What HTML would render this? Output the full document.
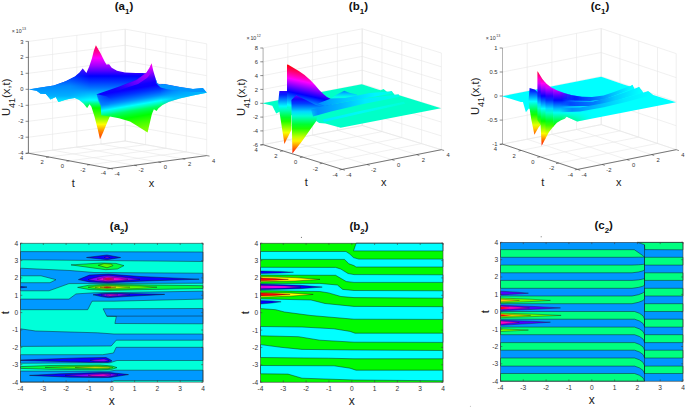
<!DOCTYPE html>
<html><head><meta charset="utf-8"><style>
html,body{margin:0;padding:0;background:#fff;}
svg{display:block;font-family:"Liberation Sans",sans-serif;}
</style></head><body>
<svg width="685" height="408" viewBox="0 0 685 408">
<defs><filter id="blur1" x="-5%" y="-20%" width="110%" height="140%"><feGaussianBlur stdDeviation="0.7"/></filter><linearGradient id="g1" gradientUnits="userSpaceOnUse" x1="0" y1="45" x2="0" y2="139.5"><stop offset="0.000" stop-color="#ff004d"/><stop offset="0.074" stop-color="#ff0099"/><stop offset="0.138" stop-color="#fe00ff"/><stop offset="0.222" stop-color="#9e00ff"/><stop offset="0.275" stop-color="#5200ff"/><stop offset="0.328" stop-color="#0100ff"/><stop offset="0.392" stop-color="#0038ff"/><stop offset="0.455" stop-color="#0075ff"/><stop offset="0.508" stop-color="#00b2ff"/><stop offset="0.582" stop-color="#00ffff"/><stop offset="0.619" stop-color="#00ff85"/><stop offset="0.667" stop-color="#01ff00"/><stop offset="0.757" stop-color="#61ff00"/><stop offset="0.840" stop-color="#feff00"/><stop offset="0.910" stop-color="#ff8a00"/><stop offset="1.000" stop-color="#ff2e00"/></linearGradient><linearGradient id="g2" gradientUnits="userSpaceOnUse" x1="151.6" y1="63.3" x2="163.228" y2="130.28"><stop offset="0.000" stop-color="#ff00e6"/><stop offset="0.068" stop-color="#dc00ff"/><stop offset="0.140" stop-color="#8c00ff"/><stop offset="0.213" stop-color="#3c00ff"/><stop offset="0.279" stop-color="#0f00ff"/><stop offset="0.324" stop-color="#0a00ff"/><stop offset="0.390" stop-color="#0032ff"/><stop offset="0.441" stop-color="#005fff"/><stop offset="0.485" stop-color="#008cff"/><stop offset="0.529" stop-color="#00c8ff"/><stop offset="0.563" stop-color="#00ffff"/><stop offset="0.603" stop-color="#00ffb4"/><stop offset="0.640" stop-color="#00ff64"/><stop offset="0.691" stop-color="#00ff28"/><stop offset="0.735" stop-color="#00ff00"/><stop offset="0.824" stop-color="#3cff00"/><stop offset="0.912" stop-color="#6eff00"/><stop offset="1.000" stop-color="#8cff00"/></linearGradient><linearGradient id="g3" gradientUnits="userSpaceOnUse" x1="150" y1="66" x2="112" y2="89"><stop offset="0" stop-color="#c000ff" stop-opacity="0"/><stop offset="0.15" stop-color="#b000ff" stop-opacity="0.85"/><stop offset="0.5" stop-color="#8000ff" stop-opacity="0.7"/><stop offset="1" stop-color="#4000ff" stop-opacity="0"/></linearGradient><linearGradient id="g4" gradientUnits="userSpaceOnUse" x1="160" y1="0" x2="200" y2="0"><stop offset="0" stop-color="#00a0ff" stop-opacity="0"/><stop offset="0.35" stop-color="#00a0ff" stop-opacity="0.6"/><stop offset="0.7" stop-color="#00a8ff" stop-opacity="0.85"/><stop offset="1" stop-color="#00b0ff" stop-opacity="0.95"/></linearGradient><linearGradient id="g5" gradientUnits="userSpaceOnUse" x1="0" y1="68" x2="0" y2="102.5"><stop offset="0.000" stop-color="#0014ff"/><stop offset="0.203" stop-color="#0032ff"/><stop offset="0.377" stop-color="#005aff"/><stop offset="0.522" stop-color="#0087ff"/><stop offset="0.667" stop-color="#009bff"/><stop offset="0.812" stop-color="#00afff"/><stop offset="0.913" stop-color="#00d7ff"/><stop offset="1.000" stop-color="#00faff"/></linearGradient><linearGradient id="g6" gradientUnits="userSpaceOnUse" x1="70" y1="0" x2="90" y2="0"><stop offset="0" stop-color="#fff" stop-opacity="1"/><stop offset="1" stop-color="#fff" stop-opacity="0"/></linearGradient><mask id="mL" maskUnits="userSpaceOnUse" x="0" y="0" width="230" height="204"><rect x="0" y="0" width="230" height="204" fill="url(#g6)"/></mask><linearGradient id="g7" gradientUnits="userSpaceOnUse" x1="96" y1="0" x2="112" y2="0"><stop offset="0" stop-color="#0090ff" stop-opacity="0.85"/><stop offset="1" stop-color="#0070ff" stop-opacity="0"/></linearGradient><linearGradient id="g8" gradientUnits="userSpaceOnUse" x1="0" y1="90.5" x2="0" y2="99"><stop offset="0.000" stop-color="#0078ff"/><stop offset="0.412" stop-color="#00c8ff"/><stop offset="0.765" stop-color="#00ffeb"/><stop offset="1.000" stop-color="#00ffc8"/></linearGradient><linearGradient id="g9" gradientUnits="userSpaceOnUse" x1="0" y1="91.0" x2="0" y2="144.0"><stop offset="0.000" stop-color="#2800ff"/><stop offset="0.071" stop-color="#0021ff"/><stop offset="0.143" stop-color="#0069ff"/><stop offset="0.214" stop-color="#00b2ff"/><stop offset="0.286" stop-color="#00faff"/><stop offset="0.357" stop-color="#00ffbc"/><stop offset="0.429" stop-color="#00ff73"/><stop offset="0.500" stop-color="#00ff2b"/><stop offset="0.571" stop-color="#1eff00"/><stop offset="0.643" stop-color="#66ff00"/><stop offset="0.714" stop-color="#aeff00"/><stop offset="0.786" stop-color="#f7ff00"/><stop offset="0.857" stop-color="#ffbf00"/><stop offset="0.929" stop-color="#ff7600"/><stop offset="1.000" stop-color="#ff2e00"/></linearGradient><linearGradient id="g10" gradientUnits="userSpaceOnUse" x1="287" y1="64.6" x2="275.82421247799334" y2="115.38485771628153"><stop offset="0.000" stop-color="#ff0002"/><stop offset="0.062" stop-color="#ff0041"/><stop offset="0.125" stop-color="#ff0081"/><stop offset="0.188" stop-color="#ff00c0"/><stop offset="0.250" stop-color="#fe00ff"/><stop offset="0.312" stop-color="#bf00ff"/><stop offset="0.375" stop-color="#7f00ff"/><stop offset="0.438" stop-color="#3f00ff"/><stop offset="0.500" stop-color="#0000ff"/><stop offset="0.562" stop-color="#0040ff"/><stop offset="0.625" stop-color="#007fff"/><stop offset="0.688" stop-color="#00bfff"/><stop offset="0.750" stop-color="#00ffff"/><stop offset="0.812" stop-color="#00ffc0"/><stop offset="0.875" stop-color="#00ff80"/><stop offset="0.938" stop-color="#00ff41"/><stop offset="1.000" stop-color="#00ff01"/></linearGradient><linearGradient id="g11" gradientUnits="userSpaceOnUse" x1="0" y1="95.0" x2="0" y2="153.6"><stop offset="0.000" stop-color="#6500ff"/><stop offset="0.071" stop-color="#1500ff"/><stop offset="0.143" stop-color="#003bff"/><stop offset="0.214" stop-color="#008bff"/><stop offset="0.286" stop-color="#00dbff"/><stop offset="0.357" stop-color="#00ffd2"/><stop offset="0.429" stop-color="#00ff82"/><stop offset="0.500" stop-color="#00ff32"/><stop offset="0.571" stop-color="#1eff00"/><stop offset="0.643" stop-color="#6eff00"/><stop offset="0.714" stop-color="#beff00"/><stop offset="0.786" stop-color="#fff000"/><stop offset="0.857" stop-color="#ffa000"/><stop offset="0.929" stop-color="#ff5000"/><stop offset="1.000" stop-color="#ff0000"/></linearGradient><linearGradient id="g12" gradientUnits="userSpaceOnUse" x1="318" y1="0" x2="392" y2="0"><stop offset="0.000" stop-color="#008cff"/><stop offset="0.365" stop-color="#00c8ff"/><stop offset="0.770" stop-color="#00f5ff"/><stop offset="1.000" stop-color="#00ffe1"/></linearGradient><linearGradient id="g13" gradientUnits="userSpaceOnUse" x1="311" y1="0" x2="400" y2="0"><stop offset="0.000" stop-color="#0078ff" stop-opacity="0.3"/><stop offset="0.079" stop-color="#008cff" stop-opacity="1"/><stop offset="0.326" stop-color="#00b4ff"/><stop offset="0.607" stop-color="#00ebff"/><stop offset="1.000" stop-color="#00ffe1"/></linearGradient><linearGradient id="g14" gradientUnits="userSpaceOnUse" x1="323" y1="0" x2="405" y2="0"><stop offset="0.000" stop-color="#00ebff"/><stop offset="0.451" stop-color="#00faf5"/><stop offset="1.000" stop-color="#00ffd7"/></linearGradient><linearGradient id="g15" gradientUnits="userSpaceOnUse" x1="0" y1="88.0" x2="0" y2="135.0"><stop offset="0.000" stop-color="#1800ff"/><stop offset="0.071" stop-color="#002dff"/><stop offset="0.143" stop-color="#0073ff"/><stop offset="0.214" stop-color="#00b8ff"/><stop offset="0.286" stop-color="#00feff"/><stop offset="0.357" stop-color="#00ffbb"/><stop offset="0.429" stop-color="#00ff76"/><stop offset="0.500" stop-color="#00ff30"/><stop offset="0.571" stop-color="#15ff00"/><stop offset="0.643" stop-color="#5bff00"/><stop offset="0.714" stop-color="#a0ff00"/><stop offset="0.786" stop-color="#e5ff00"/><stop offset="0.857" stop-color="#ffd300"/><stop offset="0.929" stop-color="#ff8e00"/><stop offset="1.000" stop-color="#ff4800"/></linearGradient><linearGradient id="g16" gradientUnits="userSpaceOnUse" x1="562" y1="0" x2="592" y2="0"><stop offset="0" stop-color="#fff"/><stop offset="1" stop-color="#000"/></linearGradient><mask id="mC" maskUnits="userSpaceOnUse" x="455" y="0" width="230" height="204"><rect x="455" y="0" width="230" height="204" fill="url(#g16)"/></mask><clipPath id="cs0"><rect x="536.4" y="60" width="4.899999999999954" height="100"/></clipPath><linearGradient id="g17" gradientUnits="userSpaceOnUse" x1="0" y1="71.0" x2="0" y2="146.0"><stop offset="0.000" stop-color="#ff0025"/><stop offset="0.056" stop-color="#ff007b"/><stop offset="0.111" stop-color="#ff00d2"/><stop offset="0.167" stop-color="#d600ff"/><stop offset="0.222" stop-color="#8000ff"/><stop offset="0.278" stop-color="#2a00ff"/><stop offset="0.333" stop-color="#002cff"/><stop offset="0.389" stop-color="#0082ff"/><stop offset="0.444" stop-color="#00d8ff"/><stop offset="0.500" stop-color="#00ffcf"/><stop offset="0.556" stop-color="#00ff79"/><stop offset="0.611" stop-color="#00ff23"/><stop offset="0.667" stop-color="#33ff00"/><stop offset="0.722" stop-color="#89ff00"/><stop offset="0.778" stop-color="#dfff00"/><stop offset="0.833" stop-color="#ffc900"/><stop offset="0.889" stop-color="#ff7200"/><stop offset="0.944" stop-color="#ff1c00"/><stop offset="1.000" stop-color="#ff0000"/></linearGradient><clipPath id="cs1"><rect x="540.6999999999999" y="60" width="5.400000000000068" height="100"/></clipPath><linearGradient id="g18" gradientUnits="userSpaceOnUse" x1="0" y1="71.0" x2="0" y2="146.0"><stop offset="0.000" stop-color="#ff0002"/><stop offset="0.056" stop-color="#ff004a"/><stop offset="0.111" stop-color="#ff00a0"/><stop offset="0.167" stop-color="#ff00f6"/><stop offset="0.222" stop-color="#b200ff"/><stop offset="0.278" stop-color="#5c00ff"/><stop offset="0.333" stop-color="#0600ff"/><stop offset="0.389" stop-color="#0051ff"/><stop offset="0.444" stop-color="#00a7ff"/><stop offset="0.500" stop-color="#00fdff"/><stop offset="0.556" stop-color="#00ffab"/><stop offset="0.611" stop-color="#00ff55"/><stop offset="0.667" stop-color="#01ff00"/><stop offset="0.722" stop-color="#58ff00"/><stop offset="0.778" stop-color="#aeff00"/><stop offset="0.833" stop-color="#fffa00"/><stop offset="0.889" stop-color="#ffa400"/><stop offset="0.944" stop-color="#ff4e00"/><stop offset="1.000" stop-color="#ff0000"/></linearGradient><clipPath id="cs2"><rect x="545.5" y="60" width="8.299999999999931" height="100"/></clipPath><linearGradient id="g19" gradientUnits="userSpaceOnUse" x1="0" y1="71.0" x2="0" y2="146.0"><stop offset="0.000" stop-color="#ff0002"/><stop offset="0.056" stop-color="#ff0027"/><stop offset="0.111" stop-color="#ff007d"/><stop offset="0.167" stop-color="#ff00d3"/><stop offset="0.222" stop-color="#d500ff"/><stop offset="0.278" stop-color="#7f00ff"/><stop offset="0.333" stop-color="#2900ff"/><stop offset="0.389" stop-color="#002dff"/><stop offset="0.444" stop-color="#0084ff"/><stop offset="0.500" stop-color="#00daff"/><stop offset="0.556" stop-color="#00ffce"/><stop offset="0.611" stop-color="#00ff78"/><stop offset="0.667" stop-color="#00ff22"/><stop offset="0.722" stop-color="#34ff00"/><stop offset="0.778" stop-color="#8bff00"/><stop offset="0.833" stop-color="#e1ff00"/><stop offset="0.889" stop-color="#ffc700"/><stop offset="0.944" stop-color="#ff7100"/><stop offset="1.000" stop-color="#ff1b00"/></linearGradient><clipPath id="cs3"><rect x="553.1999999999999" y="60" width="46.80000000000005" height="100"/></clipPath><linearGradient id="g20" gradientUnits="userSpaceOnUse" x1="0" y1="71.0" x2="0" y2="146.0"><stop offset="0.000" stop-color="#ff0002"/><stop offset="0.056" stop-color="#ff0003"/><stop offset="0.111" stop-color="#ff005a"/><stop offset="0.167" stop-color="#ff00b0"/><stop offset="0.222" stop-color="#f800ff"/><stop offset="0.278" stop-color="#a200ff"/><stop offset="0.333" stop-color="#4c00ff"/><stop offset="0.389" stop-color="#000aff"/><stop offset="0.444" stop-color="#0060ff"/><stop offset="0.500" stop-color="#00b7ff"/><stop offset="0.556" stop-color="#00fff1"/><stop offset="0.611" stop-color="#00ff9b"/><stop offset="0.667" stop-color="#00ff45"/><stop offset="0.722" stop-color="#11ff00"/><stop offset="0.778" stop-color="#67ff00"/><stop offset="0.833" stop-color="#beff00"/><stop offset="0.889" stop-color="#ffea00"/><stop offset="0.944" stop-color="#ff9400"/><stop offset="1.000" stop-color="#ff3e00"/></linearGradient><linearGradient id="g21" gradientUnits="userSpaceOnUse" x1="560" y1="0" x2="632" y2="0"><stop offset="0.000" stop-color="#0a00ff" stop-opacity="0"/><stop offset="0.208" stop-color="#001eff" stop-opacity="1"/><stop offset="0.486" stop-color="#006eff"/><stop offset="0.722" stop-color="#00beff"/><stop offset="1.000" stop-color="#00ffff"/></linearGradient><linearGradient id="g22" gradientUnits="userSpaceOnUse" x1="560" y1="0" x2="640" y2="0"><stop offset="0.000" stop-color="#003cff" stop-opacity="0"/><stop offset="0.125" stop-color="#0046ff" stop-opacity="1"/><stop offset="0.438" stop-color="#007dff"/><stop offset="0.688" stop-color="#00cdff"/><stop offset="1.000" stop-color="#00ffff"/></linearGradient><linearGradient id="g23" gradientUnits="userSpaceOnUse" x1="560" y1="0" x2="650" y2="0"><stop offset="0.000" stop-color="#0078ff" stop-opacity="0"/><stop offset="0.133" stop-color="#008cff" stop-opacity="1"/><stop offset="0.444" stop-color="#00beff"/><stop offset="0.722" stop-color="#00ebff"/><stop offset="1.000" stop-color="#00ffff"/></linearGradient></defs>
<rect width="685" height="408" fill="#fff"/>
<text x="124" y="9.6" font-size="11.5" font-weight="bold" text-anchor="middle" fill="#111">(a<tspan dy="4.6" font-size="8">1</tspan><tspan dy="-4.6">)</tspan></text>
<line x1="28.4" y1="153.2" x2="125.2" y2="141.0" stroke="#e5e5e5" stroke-width="0.6"/>
<line x1="125.2" y1="141.0" x2="206.7" y2="155.6" stroke="#e5e5e5" stroke-width="0.6"/>
<line x1="28.4" y1="137.2" x2="125.2" y2="125.0" stroke="#e5e5e5" stroke-width="0.6"/>
<line x1="125.2" y1="125.0" x2="206.7" y2="139.6" stroke="#e5e5e5" stroke-width="0.6"/>
<line x1="28.4" y1="121.3" x2="125.2" y2="109.1" stroke="#e5e5e5" stroke-width="0.6"/>
<line x1="125.2" y1="109.1" x2="206.7" y2="123.7" stroke="#e5e5e5" stroke-width="0.6"/>
<line x1="28.4" y1="105.3" x2="125.2" y2="93.1" stroke="#e5e5e5" stroke-width="0.6"/>
<line x1="125.2" y1="93.1" x2="206.7" y2="107.7" stroke="#e5e5e5" stroke-width="0.6"/>
<line x1="28.4" y1="89.3" x2="125.2" y2="77.1" stroke="#e5e5e5" stroke-width="0.6"/>
<line x1="125.2" y1="77.1" x2="206.7" y2="91.7" stroke="#e5e5e5" stroke-width="0.6"/>
<line x1="28.4" y1="73.3" x2="125.2" y2="61.1" stroke="#e5e5e5" stroke-width="0.6"/>
<line x1="125.2" y1="61.1" x2="206.7" y2="75.7" stroke="#e5e5e5" stroke-width="0.6"/>
<line x1="28.4" y1="57.4" x2="125.2" y2="45.2" stroke="#e5e5e5" stroke-width="0.6"/>
<line x1="125.2" y1="45.2" x2="206.7" y2="59.8" stroke="#e5e5e5" stroke-width="0.6"/>
<line x1="28.4" y1="41.4" x2="125.2" y2="29.2" stroke="#e5e5e5" stroke-width="0.6"/>
<line x1="125.2" y1="29.2" x2="206.7" y2="43.8" stroke="#e5e5e5" stroke-width="0.6"/>
<line x1="28.4" y1="153.2" x2="28.4" y2="41.4" stroke="#e5e5e5" stroke-width="0.6"/>
<line x1="125.2" y1="141.0" x2="125.2" y2="29.2" stroke="#e5e5e5" stroke-width="0.6"/>
<line x1="28.4" y1="153.2" x2="110.2" y2="168.5" stroke="#e5e5e5" stroke-width="0.6"/>
<line x1="28.4" y1="153.2" x2="125.2" y2="141.0" stroke="#e5e5e5" stroke-width="0.6"/>
<line x1="52.6" y1="150.1" x2="52.6" y2="38.3" stroke="#e5e5e5" stroke-width="0.6"/>
<line x1="145.6" y1="144.7" x2="145.6" y2="32.9" stroke="#e5e5e5" stroke-width="0.6"/>
<line x1="52.6" y1="150.1" x2="134.3" y2="165.3" stroke="#e5e5e5" stroke-width="0.6"/>
<line x1="48.9" y1="157.0" x2="145.6" y2="144.7" stroke="#e5e5e5" stroke-width="0.6"/>
<line x1="76.8" y1="147.1" x2="76.8" y2="35.3" stroke="#e5e5e5" stroke-width="0.6"/>
<line x1="165.9" y1="148.3" x2="165.9" y2="36.5" stroke="#e5e5e5" stroke-width="0.6"/>
<line x1="76.8" y1="147.1" x2="158.4" y2="162.1" stroke="#e5e5e5" stroke-width="0.6"/>
<line x1="69.3" y1="160.8" x2="165.9" y2="148.3" stroke="#e5e5e5" stroke-width="0.6"/>
<line x1="101.0" y1="144.1" x2="101.0" y2="32.3" stroke="#e5e5e5" stroke-width="0.6"/>
<line x1="186.3" y1="151.9" x2="186.3" y2="40.2" stroke="#e5e5e5" stroke-width="0.6"/>
<line x1="101.0" y1="144.1" x2="182.6" y2="158.8" stroke="#e5e5e5" stroke-width="0.6"/>
<line x1="89.8" y1="164.7" x2="186.3" y2="151.9" stroke="#e5e5e5" stroke-width="0.6"/>
<line x1="125.2" y1="141.0" x2="125.2" y2="29.2" stroke="#e5e5e5" stroke-width="0.6"/>
<line x1="206.7" y1="155.6" x2="206.7" y2="43.8" stroke="#e5e5e5" stroke-width="0.6"/>
<line x1="125.2" y1="141.0" x2="206.7" y2="155.6" stroke="#e5e5e5" stroke-width="0.6"/>
<line x1="110.2" y1="168.5" x2="206.7" y2="155.6" stroke="#e5e5e5" stroke-width="0.6"/>
<line x1="28.4" y1="153.2" x2="28.4" y2="41.4" stroke="#404040" stroke-width="0.7"/>
<line x1="28.4" y1="153.2" x2="110.2" y2="168.5" stroke="#404040" stroke-width="0.7"/>
<line x1="110.2" y1="168.5" x2="206.7" y2="155.6" stroke="#404040" stroke-width="0.7"/>
<line x1="25.6" y1="153.2" x2="28.4" y2="153.2" stroke="#404040" stroke-width="0.6"/>
<text x="23.4" y="155.2" font-size="5.8" text-anchor="end" fill="#333" font-weight="normal" >-4</text>
<line x1="25.6" y1="137.2" x2="28.4" y2="137.2" stroke="#404040" stroke-width="0.6"/>
<text x="23.4" y="139.3" font-size="5.8" text-anchor="end" fill="#333" font-weight="normal" >-3</text>
<line x1="25.6" y1="121.3" x2="28.4" y2="121.3" stroke="#404040" stroke-width="0.6"/>
<text x="23.4" y="123.3" font-size="5.8" text-anchor="end" fill="#333" font-weight="normal" >-2</text>
<line x1="25.6" y1="105.3" x2="28.4" y2="105.3" stroke="#404040" stroke-width="0.6"/>
<text x="23.4" y="107.3" font-size="5.8" text-anchor="end" fill="#333" font-weight="normal" >-1</text>
<line x1="25.6" y1="89.3" x2="28.4" y2="89.3" stroke="#404040" stroke-width="0.6"/>
<text x="23.4" y="91.4" font-size="5.8" text-anchor="end" fill="#333" font-weight="normal" >0</text>
<line x1="25.6" y1="73.3" x2="28.4" y2="73.3" stroke="#404040" stroke-width="0.6"/>
<text x="23.4" y="75.4" font-size="5.8" text-anchor="end" fill="#333" font-weight="normal" >1</text>
<line x1="25.6" y1="57.4" x2="28.4" y2="57.4" stroke="#404040" stroke-width="0.6"/>
<text x="23.4" y="59.4" font-size="5.8" text-anchor="end" fill="#333" font-weight="normal" >2</text>
<line x1="25.6" y1="41.4" x2="28.4" y2="41.4" stroke="#404040" stroke-width="0.6"/>
<text x="23.4" y="43.5" font-size="5.8" text-anchor="end" fill="#333" font-weight="normal" >3</text>
<line x1="28.4" y1="153.2" x2="25.6" y2="153.6" stroke="#404040" stroke-width="0.6"/>
<text x="21.5" y="160.1" font-size="5.8" text-anchor="middle" fill="#333" font-weight="normal" >4</text>
<line x1="48.9" y1="157.0" x2="46.1" y2="157.4" stroke="#404040" stroke-width="0.6"/>
<text x="42.0" y="163.9" font-size="5.8" text-anchor="middle" fill="#333" font-weight="normal" >2</text>
<line x1="69.3" y1="160.8" x2="66.5" y2="161.2" stroke="#404040" stroke-width="0.6"/>
<text x="62.4" y="167.8" font-size="5.8" text-anchor="middle" fill="#333" font-weight="normal" >0</text>
<line x1="89.8" y1="164.7" x2="87.0" y2="165.0" stroke="#404040" stroke-width="0.6"/>
<text x="82.8" y="171.6" font-size="5.8" text-anchor="middle" fill="#333" font-weight="normal" >-2</text>
<line x1="110.2" y1="168.5" x2="107.4" y2="168.9" stroke="#404040" stroke-width="0.6"/>
<text x="103.3" y="175.4" font-size="5.8" text-anchor="middle" fill="#333" font-weight="normal" >-4</text>
<line x1="110.2" y1="168.5" x2="113.0" y2="169.0" stroke="#404040" stroke-width="0.6"/>
<text x="117.1" y="175.6" font-size="5.8" text-anchor="middle" fill="#333" font-weight="normal" >-4</text>
<line x1="134.3" y1="165.3" x2="137.1" y2="165.8" stroke="#404040" stroke-width="0.6"/>
<text x="141.2" y="172.4" font-size="5.8" text-anchor="middle" fill="#333" font-weight="normal" >-2</text>
<line x1="158.4" y1="162.1" x2="161.2" y2="162.6" stroke="#404040" stroke-width="0.6"/>
<text x="165.3" y="169.2" font-size="5.8" text-anchor="middle" fill="#333" font-weight="normal" >0</text>
<line x1="182.6" y1="158.8" x2="185.3" y2="159.3" stroke="#404040" stroke-width="0.6"/>
<text x="189.5" y="165.9" font-size="5.8" text-anchor="middle" fill="#333" font-weight="normal" >2</text>
<line x1="206.7" y1="155.6" x2="209.5" y2="156.1" stroke="#404040" stroke-width="0.6"/>
<text x="213.6" y="162.7" font-size="5.8" text-anchor="middle" fill="#333" font-weight="normal" >4</text>
<text x="11.7" y="33.0" font-size="5.3" fill="#333">×<tspan dx="0.9">10</tspan><tspan dx="0.5" dy="-2.6" font-size="3.6">13</tspan></text>
<text transform="translate(10.1,97.3) rotate(-90)" font-size="11.3" text-anchor="middle" fill="#222">U<tspan dy="5" font-size="9">41</tspan><tspan dy="-5">(x,t)</tspan></text>
<text x="73.4" y="186.8" font-size="11" text-anchor="middle" fill="#222" font-weight="normal" >t</text>
<text x="151.4" y="187.2" font-size="11" text-anchor="middle" fill="#222" font-weight="normal" >x</text>
<polygon points="28.9,89.4 39.2,87.8 53.8,85.4 65.7,81.2 75.0,76.5 79.6,72.6 82.7,68.5 86.4,73.1 89.2,66.5 91.9,58.5 93.9,50.6 95.9,45.3 100.5,53.2 104.5,61.2 106.4,64.5 109.1,64.2 111.7,67.8 117.0,70.7 125.0,72.4 135.6,73.1 142.2,73.1 146.0,73.2 150.0,90.0 120.0,105.0 109.8,116.5 106.7,123.8 103.1,132.4 100.0,139.2 97.6,128.7 94.5,116.5 91.4,106.7 89.6,104.2 87.1,107.9 83.5,103.6 79.2,100.0 74.9,98.1 70.0,98.7 65.7,99.7 58.4,102.1 55.8,97.0 50.5,99.4 45.9,94.1 40.6,93.7 36.6,90.7" fill="url(#g1)" stroke="none" stroke-width="0.4" />
<polygon points="96.7,94.3 119.2,86.5 136.9,79.6 144.7,73.7 146.0,73.2 149.3,67.9 151.6,63.3 153.2,70.6 155.2,77.2 157.2,83.2 159.9,84.5 163.8,84.1 179.7,87.1 192.9,88.9 202.9,88.1 206.8,92.8 192.9,95.5 179.7,98.4 169.1,101.7 162.5,105.0 158.5,108.3 156.5,111.0 153.9,109.2 151.9,114.0 147.6,132.5 136.9,125.7 130.0,121.4 119.0,118.3 109.8,116.5 101.2,115.3 100.6,104.2" fill="url(#g2)" stroke="none" stroke-width="0.4" />
<g filter="url(#blur1)">
<polygon points="149.5,68.5 146.0,73.6 136.9,80.0 119.2,86.9 112.0,89.4 118.0,90.5 138.0,84.0 147.0,78.0 151.0,73.0" fill="url(#g3)" stroke="none" stroke-width="0.4" />
</g>
<polygon points="155.2,77.2 157.2,83.2 159.9,84.5 163.8,84.1 179.7,87.1 192.9,88.9 202.9,88.1 206.8,92.8 195.0,92.3 180.0,91.0 168.0,89.5 160.5,87.5 156.5,83.5" fill="#0096ff" stroke="none" stroke-width="0.4" />
<polygon points="160.5,87.5 168.0,89.5 180.0,91.0 195.0,92.3 206.8,92.8 192.9,95.5 179.7,98.4 169.1,101.7 162.5,105.0" fill="url(#g4)" stroke="none" stroke-width="0.4" />
<polygon points="28.9,89.4 39.2,87.8 53.8,85.4 65.7,81.2 75.0,76.5 79.6,72.6 82.7,68.5 86.4,73.1 90.0,70.0 90.0,104.2 87.1,107.9 83.5,103.6 79.2,100.0 74.9,98.1 70.0,98.7 65.7,99.7 58.4,102.1 55.8,97.0 50.5,99.4 45.9,94.1 40.6,93.7 36.6,90.7" fill="url(#g5)" stroke="none" stroke-width="0.4" mask="url(#mL)"/>
<polygon points="96.7,94.3 106.5,96.3 112.0,100.0 109.4,105.5 100.2,105.0 98.0,100.0" fill="url(#g7)" stroke="none" stroke-width="0.4" />
<text x="358.4" y="9.6" font-size="11.5" font-weight="bold" text-anchor="middle" fill="#111">(b<tspan dy="4.6" font-size="8">1</tspan><tspan dy="-4.6">)</tspan></text>
<line x1="263.1" y1="144.7" x2="362.2" y2="125.5" stroke="#e5e5e5" stroke-width="0.6"/>
<line x1="362.2" y1="125.5" x2="441.4" y2="149.7" stroke="#e5e5e5" stroke-width="0.6"/>
<line x1="263.1" y1="130.9" x2="362.2" y2="111.7" stroke="#e5e5e5" stroke-width="0.6"/>
<line x1="362.2" y1="111.7" x2="441.4" y2="135.9" stroke="#e5e5e5" stroke-width="0.6"/>
<line x1="263.1" y1="117.1" x2="362.2" y2="97.9" stroke="#e5e5e5" stroke-width="0.6"/>
<line x1="362.2" y1="97.9" x2="441.4" y2="122.1" stroke="#e5e5e5" stroke-width="0.6"/>
<line x1="263.1" y1="103.3" x2="362.2" y2="84.1" stroke="#e5e5e5" stroke-width="0.6"/>
<line x1="362.2" y1="84.1" x2="441.4" y2="108.3" stroke="#e5e5e5" stroke-width="0.6"/>
<line x1="263.1" y1="89.4" x2="362.2" y2="70.2" stroke="#e5e5e5" stroke-width="0.6"/>
<line x1="362.2" y1="70.2" x2="441.4" y2="94.4" stroke="#e5e5e5" stroke-width="0.6"/>
<line x1="263.1" y1="75.6" x2="362.2" y2="56.4" stroke="#e5e5e5" stroke-width="0.6"/>
<line x1="362.2" y1="56.4" x2="441.4" y2="80.6" stroke="#e5e5e5" stroke-width="0.6"/>
<line x1="263.1" y1="61.8" x2="362.2" y2="42.6" stroke="#e5e5e5" stroke-width="0.6"/>
<line x1="362.2" y1="42.6" x2="441.4" y2="66.8" stroke="#e5e5e5" stroke-width="0.6"/>
<line x1="263.1" y1="48.0" x2="362.2" y2="28.8" stroke="#e5e5e5" stroke-width="0.6"/>
<line x1="362.2" y1="28.8" x2="441.4" y2="53.0" stroke="#e5e5e5" stroke-width="0.6"/>
<line x1="263.1" y1="144.7" x2="263.1" y2="48.0" stroke="#e5e5e5" stroke-width="0.6"/>
<line x1="362.2" y1="125.5" x2="362.2" y2="28.8" stroke="#e5e5e5" stroke-width="0.6"/>
<line x1="263.1" y1="144.7" x2="342.2" y2="169.4" stroke="#e5e5e5" stroke-width="0.6"/>
<line x1="263.1" y1="144.7" x2="362.2" y2="125.5" stroke="#e5e5e5" stroke-width="0.6"/>
<line x1="287.9" y1="139.9" x2="287.9" y2="43.2" stroke="#e5e5e5" stroke-width="0.6"/>
<line x1="382.0" y1="131.6" x2="382.0" y2="34.9" stroke="#e5e5e5" stroke-width="0.6"/>
<line x1="287.9" y1="139.9" x2="367.0" y2="164.5" stroke="#e5e5e5" stroke-width="0.6"/>
<line x1="282.9" y1="150.9" x2="382.0" y2="131.6" stroke="#e5e5e5" stroke-width="0.6"/>
<line x1="312.6" y1="135.1" x2="312.6" y2="38.4" stroke="#e5e5e5" stroke-width="0.6"/>
<line x1="401.8" y1="137.6" x2="401.8" y2="40.9" stroke="#e5e5e5" stroke-width="0.6"/>
<line x1="312.6" y1="135.1" x2="391.8" y2="159.6" stroke="#e5e5e5" stroke-width="0.6"/>
<line x1="302.6" y1="157.1" x2="401.8" y2="137.6" stroke="#e5e5e5" stroke-width="0.6"/>
<line x1="337.4" y1="130.3" x2="337.4" y2="33.6" stroke="#e5e5e5" stroke-width="0.6"/>
<line x1="421.6" y1="143.6" x2="421.6" y2="46.9" stroke="#e5e5e5" stroke-width="0.6"/>
<line x1="337.4" y1="130.3" x2="416.6" y2="154.6" stroke="#e5e5e5" stroke-width="0.6"/>
<line x1="322.4" y1="163.2" x2="421.6" y2="143.6" stroke="#e5e5e5" stroke-width="0.6"/>
<line x1="362.2" y1="125.5" x2="362.2" y2="28.8" stroke="#e5e5e5" stroke-width="0.6"/>
<line x1="441.4" y1="149.7" x2="441.4" y2="53.0" stroke="#e5e5e5" stroke-width="0.6"/>
<line x1="362.2" y1="125.5" x2="441.4" y2="149.7" stroke="#e5e5e5" stroke-width="0.6"/>
<line x1="342.2" y1="169.4" x2="441.4" y2="149.7" stroke="#e5e5e5" stroke-width="0.6"/>
<line x1="263.1" y1="144.7" x2="263.1" y2="48.0" stroke="#9a9a9a" stroke-width="0.7"/>
<line x1="263.1" y1="144.7" x2="342.2" y2="169.4" stroke="#404040" stroke-width="0.7"/>
<line x1="342.2" y1="169.4" x2="441.4" y2="149.7" stroke="#404040" stroke-width="0.7"/>
<line x1="260.3" y1="144.7" x2="263.1" y2="144.7" stroke="#404040" stroke-width="0.6"/>
<text x="258.1" y="146.8" font-size="5.8" text-anchor="end" fill="#333" font-weight="normal" >-6</text>
<line x1="260.3" y1="130.9" x2="263.1" y2="130.9" stroke="#404040" stroke-width="0.6"/>
<text x="258.1" y="132.9" font-size="5.8" text-anchor="end" fill="#333" font-weight="normal" >-4</text>
<line x1="260.3" y1="117.1" x2="263.1" y2="117.1" stroke="#404040" stroke-width="0.6"/>
<text x="258.1" y="119.1" font-size="5.8" text-anchor="end" fill="#333" font-weight="normal" >-2</text>
<line x1="260.3" y1="103.3" x2="263.1" y2="103.3" stroke="#404040" stroke-width="0.6"/>
<text x="258.1" y="105.3" font-size="5.8" text-anchor="end" fill="#333" font-weight="normal" >0</text>
<line x1="260.3" y1="89.4" x2="263.1" y2="89.4" stroke="#404040" stroke-width="0.6"/>
<text x="258.1" y="91.5" font-size="5.8" text-anchor="end" fill="#333" font-weight="normal" >2</text>
<line x1="260.3" y1="75.6" x2="263.1" y2="75.6" stroke="#404040" stroke-width="0.6"/>
<text x="258.1" y="77.7" font-size="5.8" text-anchor="end" fill="#333" font-weight="normal" >4</text>
<line x1="260.3" y1="61.8" x2="263.1" y2="61.8" stroke="#404040" stroke-width="0.6"/>
<text x="258.1" y="63.9" font-size="5.8" text-anchor="end" fill="#333" font-weight="normal" >6</text>
<line x1="260.3" y1="48.0" x2="263.1" y2="48.0" stroke="#404040" stroke-width="0.6"/>
<text x="258.1" y="50.0" font-size="5.8" text-anchor="end" fill="#333" font-weight="normal" >8</text>
<line x1="263.1" y1="144.7" x2="260.4" y2="145.2" stroke="#404040" stroke-width="0.6"/>
<text x="256.1" y="152.0" font-size="5.8" text-anchor="middle" fill="#333" font-weight="normal" >4</text>
<line x1="282.9" y1="150.9" x2="280.1" y2="151.4" stroke="#404040" stroke-width="0.6"/>
<text x="275.9" y="158.2" font-size="5.8" text-anchor="middle" fill="#333" font-weight="normal" >2</text>
<line x1="302.6" y1="157.1" x2="299.9" y2="157.6" stroke="#404040" stroke-width="0.6"/>
<text x="295.6" y="164.4" font-size="5.8" text-anchor="middle" fill="#333" font-weight="normal" >0</text>
<line x1="322.4" y1="163.2" x2="319.7" y2="163.8" stroke="#404040" stroke-width="0.6"/>
<text x="315.4" y="170.5" font-size="5.8" text-anchor="middle" fill="#333" font-weight="normal" >-2</text>
<line x1="342.2" y1="169.4" x2="339.5" y2="169.9" stroke="#404040" stroke-width="0.6"/>
<text x="335.2" y="176.7" font-size="5.8" text-anchor="middle" fill="#333" font-weight="normal" >-4</text>
<line x1="342.2" y1="169.4" x2="344.9" y2="170.2" stroke="#404040" stroke-width="0.6"/>
<text x="348.9" y="177.0" font-size="5.8" text-anchor="middle" fill="#333" font-weight="normal" >-4</text>
<line x1="367.0" y1="164.5" x2="369.7" y2="165.3" stroke="#404040" stroke-width="0.6"/>
<text x="373.7" y="172.1" font-size="5.8" text-anchor="middle" fill="#333" font-weight="normal" >-2</text>
<line x1="391.8" y1="159.6" x2="394.5" y2="160.4" stroke="#404040" stroke-width="0.6"/>
<text x="398.5" y="167.2" font-size="5.8" text-anchor="middle" fill="#333" font-weight="normal" >0</text>
<line x1="416.6" y1="154.6" x2="419.3" y2="155.5" stroke="#404040" stroke-width="0.6"/>
<text x="423.3" y="162.2" font-size="5.8" text-anchor="middle" fill="#333" font-weight="normal" >2</text>
<line x1="441.4" y1="149.7" x2="444.1" y2="150.5" stroke="#404040" stroke-width="0.6"/>
<text x="448.1" y="157.3" font-size="5.8" text-anchor="middle" fill="#333" font-weight="normal" >4</text>
<text x="246.4" y="39.6" font-size="5.3" fill="#333">×<tspan dx="0.9">10</tspan><tspan dx="0.5" dy="-2.6" font-size="3.6">12</tspan></text>
<text transform="translate(244.6,97.3) rotate(-90)" font-size="11.3" text-anchor="middle" fill="#222">U<tspan dy="5" font-size="9">41</tspan><tspan dy="-5">(x,t)</tspan></text>
<text x="306.4" y="185.9" font-size="11" text-anchor="middle" fill="#222" font-weight="normal" >t</text>
<text x="383.7" y="186.4" font-size="11" text-anchor="middle" fill="#222" font-weight="normal" >x</text>
<polygon points="262.3,103.2 361.8,84.2 376.4,88.9 380.5,90.3 383.6,88.9 387.7,92.4 391.7,90.9 394.8,95.0 399.9,95.4 441.0,108.2 340.7,127.7 325.3,123.6 319.2,123.0 316.3,121.1 300.0,118.0 280.0,111.5 276.2,113.4 272.3,105.8" fill="#00ffc8" stroke="none" stroke-width="0.4" />
<polygon points="330.0,99.0 337.0,94.5 344.2,90.8 350.0,93.0 357.0,94.5 357.0,99.0 340.0,102.0" fill="url(#g8)" stroke="none" stroke-width="0.4" />
<polygon points="279.4,91.1 287.2,91.1 291.4,100.0 291.4,130.0 288.6,135.4 284.4,144.0 281.9,127.8 278.1,102.9" fill="url(#g9)" stroke="none" stroke-width="0.4" />
<polygon points="287.0,64.6 288.3,64.7 298.8,71.0 304.6,75.0 310.2,80.0 315.0,85.0 319.2,90.0 323.6,94.3 327.0,97.0 331.5,99.2 334.0,103.0 325.0,108.0 300.0,110.0 287.0,108.0" fill="url(#g10)" stroke="none" stroke-width="0.4" />
<polygon points="291.4,100.0 296.2,95.3 305.0,99.5 315.3,104.8 325.0,107.5 319.0,112.0 317.0,117.0 316.3,121.1 311.5,127.8 302.0,141.2 292.4,153.6" fill="url(#g11)" stroke="none" stroke-width="0.4" />
<g filter="url(#blur1)">
<polygon points="318.0,103.5 331.0,98.5 345.0,98.0 370.0,93.0 391.6,91.2 392.5,93.6 371.0,97.2 345.0,102.0 325.0,106.0" fill="url(#g12)" stroke="none" stroke-width="0.4" />
<polygon points="311.0,109.5 330.0,104.8 360.0,99.3 398.6,94.3 400.0,96.8 362.0,104.3 331.0,111.5 313.0,116.5" fill="url(#g13)" stroke="none" stroke-width="0.4" />
<polygon points="323.0,119.5 360.0,111.0 404.0,101.8 405.0,103.8 361.0,113.5 324.0,122.0" fill="url(#g14)" stroke="none" stroke-width="0.4" />
</g>
<text x="600" y="9.6" font-size="11.5" font-weight="bold" text-anchor="middle" fill="#111">(c<tspan dy="4.6" font-size="8">1</tspan><tspan dy="-4.6">)</tspan></text>
<line x1="502.5" y1="144.1" x2="601.2" y2="124.6" stroke="#e5e5e5" stroke-width="0.6"/>
<line x1="601.2" y1="124.6" x2="676.2" y2="149.7" stroke="#e5e5e5" stroke-width="0.6"/>
<line x1="502.5" y1="120.1" x2="601.2" y2="100.6" stroke="#e5e5e5" stroke-width="0.6"/>
<line x1="601.2" y1="100.6" x2="676.2" y2="125.7" stroke="#e5e5e5" stroke-width="0.6"/>
<line x1="502.5" y1="96.0" x2="601.2" y2="76.5" stroke="#e5e5e5" stroke-width="0.6"/>
<line x1="601.2" y1="76.5" x2="676.2" y2="101.6" stroke="#e5e5e5" stroke-width="0.6"/>
<line x1="502.5" y1="72.0" x2="601.2" y2="52.5" stroke="#e5e5e5" stroke-width="0.6"/>
<line x1="601.2" y1="52.5" x2="676.2" y2="77.6" stroke="#e5e5e5" stroke-width="0.6"/>
<line x1="502.5" y1="48.0" x2="601.2" y2="28.5" stroke="#e5e5e5" stroke-width="0.6"/>
<line x1="601.2" y1="28.5" x2="676.2" y2="53.6" stroke="#e5e5e5" stroke-width="0.6"/>
<line x1="502.5" y1="144.1" x2="502.5" y2="48.0" stroke="#e5e5e5" stroke-width="0.6"/>
<line x1="601.2" y1="124.6" x2="601.2" y2="28.5" stroke="#e5e5e5" stroke-width="0.6"/>
<line x1="502.5" y1="144.1" x2="577.5" y2="169.4" stroke="#e5e5e5" stroke-width="0.6"/>
<line x1="502.5" y1="144.1" x2="601.2" y2="124.6" stroke="#e5e5e5" stroke-width="0.6"/>
<line x1="527.2" y1="139.2" x2="527.2" y2="43.1" stroke="#e5e5e5" stroke-width="0.6"/>
<line x1="620.0" y1="130.9" x2="620.0" y2="34.8" stroke="#e5e5e5" stroke-width="0.6"/>
<line x1="527.2" y1="139.2" x2="602.2" y2="164.5" stroke="#e5e5e5" stroke-width="0.6"/>
<line x1="521.2" y1="150.4" x2="620.0" y2="130.9" stroke="#e5e5e5" stroke-width="0.6"/>
<line x1="551.9" y1="134.3" x2="551.9" y2="38.2" stroke="#e5e5e5" stroke-width="0.6"/>
<line x1="638.7" y1="137.1" x2="638.7" y2="41.0" stroke="#e5e5e5" stroke-width="0.6"/>
<line x1="551.9" y1="134.3" x2="626.9" y2="159.6" stroke="#e5e5e5" stroke-width="0.6"/>
<line x1="540.0" y1="156.8" x2="638.7" y2="137.1" stroke="#e5e5e5" stroke-width="0.6"/>
<line x1="576.5" y1="129.5" x2="576.5" y2="33.4" stroke="#e5e5e5" stroke-width="0.6"/>
<line x1="657.5" y1="143.4" x2="657.5" y2="47.3" stroke="#e5e5e5" stroke-width="0.6"/>
<line x1="576.5" y1="129.5" x2="651.5" y2="154.6" stroke="#e5e5e5" stroke-width="0.6"/>
<line x1="558.8" y1="163.1" x2="657.5" y2="143.4" stroke="#e5e5e5" stroke-width="0.6"/>
<line x1="601.2" y1="124.6" x2="601.2" y2="28.5" stroke="#e5e5e5" stroke-width="0.6"/>
<line x1="676.2" y1="149.7" x2="676.2" y2="53.6" stroke="#e5e5e5" stroke-width="0.6"/>
<line x1="601.2" y1="124.6" x2="676.2" y2="149.7" stroke="#e5e5e5" stroke-width="0.6"/>
<line x1="577.5" y1="169.4" x2="676.2" y2="149.7" stroke="#e5e5e5" stroke-width="0.6"/>
<line x1="502.5" y1="144.1" x2="502.5" y2="48.0" stroke="#9a9a9a" stroke-width="0.7"/>
<line x1="502.5" y1="144.1" x2="577.5" y2="169.4" stroke="#404040" stroke-width="0.7"/>
<line x1="577.5" y1="169.4" x2="676.2" y2="149.7" stroke="#404040" stroke-width="0.7"/>
<line x1="499.7" y1="144.1" x2="502.5" y2="144.1" stroke="#404040" stroke-width="0.6"/>
<text x="497.5" y="146.2" font-size="5.8" text-anchor="end" fill="#333" font-weight="normal" >-1</text>
<line x1="499.7" y1="120.1" x2="502.5" y2="120.1" stroke="#404040" stroke-width="0.6"/>
<text x="497.5" y="122.1" font-size="5.8" text-anchor="end" fill="#333" font-weight="normal" >-0.5</text>
<line x1="499.7" y1="96.0" x2="502.5" y2="96.0" stroke="#404040" stroke-width="0.6"/>
<text x="497.5" y="98.1" font-size="5.8" text-anchor="end" fill="#333" font-weight="normal" >0</text>
<line x1="499.7" y1="72.0" x2="502.5" y2="72.0" stroke="#404040" stroke-width="0.6"/>
<text x="497.5" y="74.1" font-size="5.8" text-anchor="end" fill="#333" font-weight="normal" >0.5</text>
<line x1="499.7" y1="48.0" x2="502.5" y2="48.0" stroke="#404040" stroke-width="0.6"/>
<text x="497.5" y="50.0" font-size="5.8" text-anchor="end" fill="#333" font-weight="normal" >1</text>
<line x1="502.5" y1="144.1" x2="499.8" y2="144.6" stroke="#404040" stroke-width="0.6"/>
<text x="495.4" y="151.2" font-size="5.8" text-anchor="middle" fill="#333" font-weight="normal" >4</text>
<line x1="521.2" y1="150.4" x2="518.5" y2="151.0" stroke="#404040" stroke-width="0.6"/>
<text x="514.1" y="157.5" font-size="5.8" text-anchor="middle" fill="#333" font-weight="normal" >2</text>
<line x1="540.0" y1="156.8" x2="537.3" y2="157.3" stroke="#404040" stroke-width="0.6"/>
<text x="532.9" y="163.8" font-size="5.8" text-anchor="middle" fill="#333" font-weight="normal" >0</text>
<line x1="558.8" y1="163.1" x2="556.0" y2="163.6" stroke="#404040" stroke-width="0.6"/>
<text x="551.6" y="170.2" font-size="5.8" text-anchor="middle" fill="#333" font-weight="normal" >-2</text>
<line x1="577.5" y1="169.4" x2="574.8" y2="169.9" stroke="#404040" stroke-width="0.6"/>
<text x="570.4" y="176.5" font-size="5.8" text-anchor="middle" fill="#333" font-weight="normal" >-4</text>
<line x1="577.5" y1="169.4" x2="580.2" y2="170.3" stroke="#404040" stroke-width="0.6"/>
<text x="584.1" y="176.9" font-size="5.8" text-anchor="middle" fill="#333" font-weight="normal" >-4</text>
<line x1="602.2" y1="164.5" x2="604.8" y2="165.4" stroke="#404040" stroke-width="0.6"/>
<text x="608.8" y="172.0" font-size="5.8" text-anchor="middle" fill="#333" font-weight="normal" >-2</text>
<line x1="626.9" y1="159.6" x2="629.5" y2="160.4" stroke="#404040" stroke-width="0.6"/>
<text x="633.5" y="167.1" font-size="5.8" text-anchor="middle" fill="#333" font-weight="normal" >0</text>
<line x1="651.5" y1="154.6" x2="654.2" y2="155.5" stroke="#404040" stroke-width="0.6"/>
<text x="658.1" y="162.1" font-size="5.8" text-anchor="middle" fill="#333" font-weight="normal" >2</text>
<line x1="676.2" y1="149.7" x2="678.9" y2="150.6" stroke="#404040" stroke-width="0.6"/>
<text x="682.8" y="157.2" font-size="5.8" text-anchor="middle" fill="#333" font-weight="normal" >4</text>
<text x="485.8" y="39.6" font-size="5.3" fill="#333">×<tspan dx="0.9">10</tspan><tspan dx="0.5" dy="-2.6" font-size="3.6">13</tspan></text>
<text transform="translate(478.9,96.3) rotate(-90)" font-size="11.3" text-anchor="middle" fill="#222">U<tspan dy="5" font-size="9">41</tspan><tspan dy="-5">(x,t)</tspan></text>
<text x="542.8" y="185.9" font-size="11" text-anchor="middle" fill="#222" font-weight="normal" >t</text>
<text x="618.7" y="186.4" font-size="11" text-anchor="middle" fill="#222" font-weight="normal" >x</text>
<polygon points="502.0,96.2 601.2,76.7 623.6,84.4 630.0,86.5 632.5,84.8 634.8,89.5 639.1,86.9 643.7,92.9 648.4,91.2 653.3,95.0 676.0,102.2 577.2,121.4 566.7,116.7 545.0,115.0 528.8,108.6 525.9,112.3 522.9,102.0 520.8,102.0" fill="#00ffff" stroke="none" stroke-width="0.4" />
<polygon points="529.6,88.1 534.7,89.5 537.5,92.0 540.6,96.0 540.6,125.0 538.5,127.5 534.4,134.8 531.2,119.0 528.5,101.3" fill="url(#g15)" stroke="none" stroke-width="0.4" />
<polygon points="537.4,71.5 537.8,71.6 542.0,78.5 545.7,82.9 546.2,83.4 550.9,87.3 556.8,90.3 564.1,93.0 572.0,95.3 582.0,96.8 592.0,97.0 592.0,118.5 577.2,121.4 566.7,116.7 564.9,118.8 561.0,120.3 556.9,122.8 553.0,127.0 549.0,132.1 545.0,139.5 541.7,145.8 540.6,125.0 537.4,120.0" fill="url(#g17)" stroke="none" stroke-width="0.4" clip-path="url(#cs0)"/>
<polygon points="537.4,71.5 537.8,71.6 542.0,78.5 545.7,82.9 546.2,83.4 550.9,87.3 556.8,90.3 564.1,93.0 572.0,95.3 582.0,96.8 592.0,97.0 592.0,118.5 577.2,121.4 566.7,116.7 564.9,118.8 561.0,120.3 556.9,122.8 553.0,127.0 549.0,132.1 545.0,139.5 541.7,145.8 540.6,125.0 537.4,120.0" fill="url(#g18)" stroke="none" stroke-width="0.4" clip-path="url(#cs1)"/>
<polygon points="537.4,71.5 537.8,71.6 542.0,78.5 545.7,82.9 546.2,83.4 550.9,87.3 556.8,90.3 564.1,93.0 572.0,95.3 582.0,96.8 592.0,97.0 592.0,118.5 577.2,121.4 566.7,116.7 564.9,118.8 561.0,120.3 556.9,122.8 553.0,127.0 549.0,132.1 545.0,139.5 541.7,145.8 540.6,125.0 537.4,120.0" fill="url(#g19)" stroke="none" stroke-width="0.4" clip-path="url(#cs2)"/>
<g mask="url(#mC)">
<polygon points="537.4,71.5 537.8,71.6 542.0,78.5 545.7,82.9 546.2,83.4 550.9,87.3 556.8,90.3 564.1,93.0 572.0,95.3 582.0,96.8 592.0,97.0 592.0,118.5 577.2,121.4 566.7,116.7 564.9,118.8 561.0,120.3 556.9,122.8 553.0,127.0 549.0,132.1 545.0,139.5 541.7,145.8 540.6,125.0 537.4,120.0" fill="url(#g20)" stroke="none" stroke-width="0.4" clip-path="url(#cs3)"/>
</g>
<g filter="url(#blur1)">
<polygon points="556.8,90.3 564.1,93.0 572.0,95.3 582.0,96.8 592.0,97.0 603.5,95.4 614.0,92.0 624.7,88.0 632.5,85.2 633.5,88.5 618.0,94.3 604.0,99.5 590.0,101.0 575.0,100.5 560.0,98.5" fill="url(#g21)" stroke="none" stroke-width="0.4" />
<polygon points="560.0,101.5 575.0,101.8 593.0,101.5 610.0,97.3 625.0,92.3 639.0,86.9 643.0,92.5 626.0,97.5 611.0,102.3 594.0,106.0 575.0,106.0 560.0,105.6" fill="url(#g22)" stroke="none" stroke-width="0.4" />
<polygon points="560.0,108.3 580.0,107.5 603.5,103.3 625.0,98.0 648.0,91.3 652.0,95.0 626.0,102.0 604.0,107.3 580.0,111.5 560.0,112.3" fill="url(#g23)" stroke="none" stroke-width="0.4" />
</g>
<text x="119.1" y="229.6" font-size="11.5" font-weight="bold" text-anchor="middle" fill="#111">(a<tspan dy="4.6" font-size="8">2</tspan><tspan dy="-4.6">)</tspan></text>
<rect x="20.5" y="243.2" width="182.5" height="138.9" fill="#00ffd9"/>
<g stroke-linejoin="round">
<polygon points="20.5,251.6 203.0,252.0 203.0,261.5 110.0,260.6 20.5,259.8" fill="#0099ff" stroke="#111" stroke-width="0.45" />
<polygon points="20.5,268.2 70.0,270.5 94.0,272.5 203.0,273.2 203.0,283.2 69.0,283.6 49.0,290.8 20.5,290.8" fill="#0099ff" stroke="#111" stroke-width="0.45" />
<polygon points="20.5,275.8 41.0,275.8 56.0,279.7 50.0,282.7 20.5,282.7" fill="#00ffd9" stroke="#111" stroke-width="0.45" />
<polygon points="20.5,286.4 27.0,287.1 20.5,287.9" fill="#0a00ff" stroke="#111" stroke-width="0.45" />
<polygon points="20.5,299.1 69.0,299.1 76.0,293.9 94.0,292.8 130.0,292.3 203.0,291.2 203.0,299.1 114.0,301.2 92.0,301.2 87.7,309.7 20.5,309.7" fill="#0099ff" stroke="#111" stroke-width="0.45" />
<polygon points="103.1,308.8 203.0,308.5 203.0,323.8 114.9,323.5 116.3,316.4 106.8,316.2" fill="#0099ff" stroke="#111" stroke-width="0.45" />
<line x1="106.8" y1="316.2" x2="203.0" y2="316.0" stroke="#111" stroke-width="0.45"/>
<polygon points="20.5,328.8 35.6,331.0 97.4,332.8 114.0,334.0 203.0,334.0 203.0,340.2 116.3,340.2 111.2,346.0 20.5,346.4" fill="#0099ff" stroke="#111" stroke-width="0.45" />
<polygon points="20.5,354.7 102.7,354.7 113.5,353.0 116.2,347.3 203.0,347.3 203.0,360.5 117.0,360.5 110.0,362.8 20.5,363.2" fill="#0099ff" stroke="#111" stroke-width="0.45" />
<polygon points="20.5,371.1 110.0,371.1 116.0,370.2 203.0,370.2 203.0,380.6 114.0,380.6 112.0,382.1 20.5,382.1" fill="#0099ff" stroke="#111" stroke-width="0.45" />
<polygon points="86.5,257.5 107.0,255.0 120.6,257.5 107.0,259.7" fill="#0a00ff" stroke="#111" stroke-width="0.45" />
<polygon points="104.0,257.4 107.0,256.8 110.0,257.4 107.0,258.0" fill="#8f00ff" stroke="#111" stroke-width="0.3" />
<polygon points="71.0,264.9 101.2,263.0 115.9,263.4 124.0,265.6 117.4,269.0 105.6,269.7" fill="#00ff40" stroke="#111" stroke-width="0.45" />
<polygon points="98.2,265.3 104.1,263.6 111.5,264.1 113.0,265.6 107.0,267.8" fill="#58ff00" stroke="#111" stroke-width="0.45" />
<polygon points="78.4,279.6 89.4,275.1 108.5,274.1 140.0,276.5 199.1,279.2 140.0,281.2 108.5,282.7 89.4,281.9" fill="#0a00ff" stroke="#111" stroke-width="0.45" />
<polygon points="88.0,279.5 100.0,276.5 108.0,275.5 120.0,276.8 140.0,279.3 120.0,281.0 108.0,281.7 96.0,281.0" fill="#8f00ff" stroke="#111" stroke-width="0.35" />
<polygon points="97.0,279.2 107.0,277.0 118.0,278.0 128.0,279.3 115.0,280.5 105.0,280.8" fill="#ff00db" stroke="#111" stroke-width="0.3" />
<polygon points="103.0,279.0 108.0,278.1 114.0,279.0 108.0,279.9" fill="#ff004d" stroke="#111" stroke-width="0.3" />
<polygon points="77.6,287.4 89.0,285.2 107.0,284.3 150.0,285.0 203.0,285.7 203.0,288.5 150.0,289.5 107.0,290.4 89.0,289.5" fill="#00ff40" stroke="#111" stroke-width="0.45" />
<polygon points="88.0,287.3 97.0,285.8 110.0,285.2 140.0,286.0 157.0,287.2 140.0,288.4 110.0,289.4 97.0,288.8" fill="#58ff00" stroke="#111" stroke-width="0.35" />
<polygon points="95.0,287.3 103.0,286.2 112.0,286.0 130.0,287.2 112.0,288.5 103.0,288.4" fill="#ebff00" stroke="#111" stroke-width="0.3" />
<polygon points="100.0,287.3 107.0,286.5 116.0,287.2 107.0,288.1" fill="#ff7a00" stroke="#111" stroke-width="0.3" />
<polygon points="104.0,287.3 107.0,286.9 111.0,287.2 107.0,287.7" fill="#ff0000" stroke="#111" stroke-width="0.2" />
<polygon points="93.0,294.8 102.6,293.4 122.0,293.2 164.7,294.4 126.0,296.5 108.5,297.6 102.6,296.8" fill="#0a00ff" stroke="#111" stroke-width="0.45" />
<polygon points="101.0,295.0 106.0,294.0 120.0,294.0 130.0,294.8 118.0,296.0 108.0,296.6" fill="#8f00ff" stroke="#111" stroke-width="0.3" />
<polygon points="106.0,295.0 110.0,294.5 118.0,294.9 110.0,295.8" fill="#ff00db" stroke="#111" stroke-width="0.25" />
<polygon points="20.5,360.0 80.0,357.9 106.0,357.5 110.0,359.5 112.0,361.0 108.0,362.3 90.0,362.3 40.0,360.9 20.5,360.5" fill="#0a00ff" stroke="#111" stroke-width="0.45" />
<polygon points="90.0,360.3 104.0,359.0 109.0,360.6 104.0,361.5 95.0,361.3" fill="#8f00ff" stroke="#111" stroke-width="0.3" />
<polygon points="20.5,366.6 50.0,365.5 100.0,365.0 112.0,366.0 117.0,367.6 112.0,369.3 100.0,369.8 50.0,369.3 20.5,368.4" fill="#00ff40" stroke="#111" stroke-width="0.45" />
<polygon points="45.0,367.4 80.0,366.3 108.0,366.3 113.0,367.6 108.0,368.8 80.0,368.6" fill="#58ff00" stroke="#111" stroke-width="0.3" />
<polygon points="75.0,367.5 95.0,366.8 110.0,367.2 110.0,368.0 95.0,368.2" fill="#ebff00" stroke="#111" stroke-width="0.3" />
<polygon points="29.5,375.4 60.0,373.8 100.0,372.5 110.0,372.6 128.5,374.6 110.0,377.4 100.0,377.6 70.0,377.2" fill="#0a00ff" stroke="#111" stroke-width="0.45" />
<polygon points="65.0,375.3 100.0,373.5 108.0,373.5 118.0,374.8 108.0,376.8 85.0,376.5" fill="#8f00ff" stroke="#111" stroke-width="0.3" />
<polygon points="88.0,375.2 103.0,374.2 111.0,374.9 104.0,376.1 92.0,376.0" fill="#ff00db" stroke="#111" stroke-width="0.3" />
</g>
<rect x="20.5" y="243.2" width="182.5" height="138.90000000000003" fill="none" stroke="#3a3a3a" stroke-width="0.6"/>
<line x1="20.5" y1="382.1" x2="20.5" y2="380.3" stroke="#404040" stroke-width="0.6"/>
<line x1="20.5" y1="243.2" x2="20.5" y2="245.0" stroke="#404040" stroke-width="0.6"/>
<line x1="20.5" y1="382.1" x2="22.3" y2="382.1" stroke="#404040" stroke-width="0.6"/>
<line x1="203.0" y1="382.1" x2="201.2" y2="382.1" stroke="#404040" stroke-width="0.6"/>
<text x="20.5" y="390.8" font-size="6.6" text-anchor="middle" fill="#333" font-weight="normal" >-4</text>
<text x="18.1" y="384.5" font-size="6.6" text-anchor="end" fill="#333" font-weight="normal" >-4</text>
<line x1="43.3" y1="382.1" x2="43.3" y2="380.3" stroke="#404040" stroke-width="0.6"/>
<line x1="43.3" y1="243.2" x2="43.3" y2="245.0" stroke="#404040" stroke-width="0.6"/>
<line x1="20.5" y1="364.7" x2="22.3" y2="364.7" stroke="#404040" stroke-width="0.6"/>
<line x1="203.0" y1="364.7" x2="201.2" y2="364.7" stroke="#404040" stroke-width="0.6"/>
<text x="43.3" y="390.8" font-size="6.6" text-anchor="middle" fill="#333" font-weight="normal" >-3</text>
<text x="18.1" y="367.1" font-size="6.6" text-anchor="end" fill="#333" font-weight="normal" >-3</text>
<line x1="66.1" y1="382.1" x2="66.1" y2="380.3" stroke="#404040" stroke-width="0.6"/>
<line x1="66.1" y1="243.2" x2="66.1" y2="245.0" stroke="#404040" stroke-width="0.6"/>
<line x1="20.5" y1="347.4" x2="22.3" y2="347.4" stroke="#404040" stroke-width="0.6"/>
<line x1="203.0" y1="347.4" x2="201.2" y2="347.4" stroke="#404040" stroke-width="0.6"/>
<text x="66.1" y="390.8" font-size="6.6" text-anchor="middle" fill="#333" font-weight="normal" >-2</text>
<text x="18.1" y="349.8" font-size="6.6" text-anchor="end" fill="#333" font-weight="normal" >-2</text>
<line x1="88.9" y1="382.1" x2="88.9" y2="380.3" stroke="#404040" stroke-width="0.6"/>
<line x1="88.9" y1="243.2" x2="88.9" y2="245.0" stroke="#404040" stroke-width="0.6"/>
<line x1="20.5" y1="330.0" x2="22.3" y2="330.0" stroke="#404040" stroke-width="0.6"/>
<line x1="203.0" y1="330.0" x2="201.2" y2="330.0" stroke="#404040" stroke-width="0.6"/>
<text x="88.9" y="390.8" font-size="6.6" text-anchor="middle" fill="#333" font-weight="normal" >-1</text>
<text x="18.1" y="332.4" font-size="6.6" text-anchor="end" fill="#333" font-weight="normal" >-1</text>
<line x1="111.8" y1="382.1" x2="111.8" y2="380.3" stroke="#404040" stroke-width="0.6"/>
<line x1="111.8" y1="243.2" x2="111.8" y2="245.0" stroke="#404040" stroke-width="0.6"/>
<line x1="20.5" y1="312.6" x2="22.3" y2="312.6" stroke="#404040" stroke-width="0.6"/>
<line x1="203.0" y1="312.6" x2="201.2" y2="312.6" stroke="#404040" stroke-width="0.6"/>
<text x="111.8" y="390.8" font-size="6.6" text-anchor="middle" fill="#333" font-weight="normal" >0</text>
<text x="18.1" y="315.0" font-size="6.6" text-anchor="end" fill="#333" font-weight="normal" >0</text>
<line x1="134.6" y1="382.1" x2="134.6" y2="380.3" stroke="#404040" stroke-width="0.6"/>
<line x1="134.6" y1="243.2" x2="134.6" y2="245.0" stroke="#404040" stroke-width="0.6"/>
<line x1="20.5" y1="295.3" x2="22.3" y2="295.3" stroke="#404040" stroke-width="0.6"/>
<line x1="203.0" y1="295.3" x2="201.2" y2="295.3" stroke="#404040" stroke-width="0.6"/>
<text x="134.6" y="390.8" font-size="6.6" text-anchor="middle" fill="#333" font-weight="normal" >1</text>
<text x="18.1" y="297.7" font-size="6.6" text-anchor="end" fill="#333" font-weight="normal" >1</text>
<line x1="157.4" y1="382.1" x2="157.4" y2="380.3" stroke="#404040" stroke-width="0.6"/>
<line x1="157.4" y1="243.2" x2="157.4" y2="245.0" stroke="#404040" stroke-width="0.6"/>
<line x1="20.5" y1="277.9" x2="22.3" y2="277.9" stroke="#404040" stroke-width="0.6"/>
<line x1="203.0" y1="277.9" x2="201.2" y2="277.9" stroke="#404040" stroke-width="0.6"/>
<text x="157.4" y="390.8" font-size="6.6" text-anchor="middle" fill="#333" font-weight="normal" >2</text>
<text x="18.1" y="280.3" font-size="6.6" text-anchor="end" fill="#333" font-weight="normal" >2</text>
<line x1="180.2" y1="382.1" x2="180.2" y2="380.3" stroke="#404040" stroke-width="0.6"/>
<line x1="180.2" y1="243.2" x2="180.2" y2="245.0" stroke="#404040" stroke-width="0.6"/>
<line x1="20.5" y1="260.6" x2="22.3" y2="260.6" stroke="#404040" stroke-width="0.6"/>
<line x1="203.0" y1="260.6" x2="201.2" y2="260.6" stroke="#404040" stroke-width="0.6"/>
<text x="180.2" y="390.8" font-size="6.6" text-anchor="middle" fill="#333" font-weight="normal" >3</text>
<text x="18.1" y="263.0" font-size="6.6" text-anchor="end" fill="#333" font-weight="normal" >3</text>
<line x1="203.0" y1="382.1" x2="203.0" y2="380.3" stroke="#404040" stroke-width="0.6"/>
<line x1="203.0" y1="243.2" x2="203.0" y2="245.0" stroke="#404040" stroke-width="0.6"/>
<line x1="20.5" y1="243.2" x2="22.3" y2="243.2" stroke="#404040" stroke-width="0.6"/>
<line x1="203.0" y1="243.2" x2="201.2" y2="243.2" stroke="#404040" stroke-width="0.6"/>
<text x="203.0" y="390.8" font-size="6.6" text-anchor="middle" fill="#333" font-weight="normal" >4</text>
<text x="18.1" y="245.6" font-size="6.6" text-anchor="end" fill="#333" font-weight="normal" >4</text>
<text x="111.8" y="405.0" font-size="12" text-anchor="middle" fill="#222" font-weight="normal" >x</text>
<text transform="translate(9.4,312.6) rotate(-90)" font-size="11.5" text-anchor="middle" fill="#222">t</text>
<text x="359" y="229.6" font-size="11.5" font-weight="bold" text-anchor="middle" fill="#111">(b<tspan dy="4.6" font-size="8">2</tspan><tspan dy="-4.6">)</tspan></text>
<rect x="260.5" y="243.2" width="182.5" height="139" fill="#00fb00"/>
<g stroke-linejoin="round">
<polygon points="356.2,243.0 443.0,243.0 443.0,250.9 353.5,250.9" fill="#00ffff" stroke="#111" stroke-width="0.45" />
<polygon points="260.5,251.5 346.0,251.5 349.8,254.1 353.5,257.6 358.8,259.1 443.0,259.1 443.0,267.0 356.0,267.0 354.0,265.6 348.9,263.8 344.5,259.4 260.5,259.4" fill="#00ffff" stroke="#111" stroke-width="0.45" />
<polygon points="260.5,267.3 335.6,267.4 340.9,269.1 348.0,273.5 354.0,274.6 443.0,274.8 443.0,282.4 354.0,282.4 346.2,281.5 335.6,275.3 260.5,275.1" fill="#00ffff" stroke="#111" stroke-width="0.45" />
<polygon points="260.5,283.4 319.8,283.4 337.4,285.0 342.7,289.4 354.0,290.5 443.0,290.8 443.0,298.2 354.0,297.6 340.9,296.5 328.6,292.9 319.8,291.5 260.5,290.6" fill="#00ffff" stroke="#111" stroke-width="0.45" />
<polygon points="260.5,298.8 311.0,300.0 325.0,303.5 354.0,306.4 443.0,306.7 443.0,319.4 354.0,319.2 311.0,315.5 284.5,312.0 275.6,309.7 260.5,308.6" fill="#00ffff" stroke="#111" stroke-width="0.45" />
<polygon points="260.5,326.5 302.0,327.0 334.0,328.8 350.0,331.4 355.0,333.2 443.0,333.2 443.0,342.4 354.0,342.2 319.8,340.2 298.6,336.7 260.5,335.8" fill="#00ffff" stroke="#111" stroke-width="0.45" />
<polygon points="260.5,344.6 281.0,347.3 302.0,349.4 354.0,350.0 443.0,350.5 443.0,358.8 354.0,358.8 328.6,358.2 260.5,357.5" fill="#00ffff" stroke="#111" stroke-width="0.45" />
<polygon points="260.5,365.5 334.0,365.8 350.0,368.2 356.0,370.2 443.0,370.2 443.0,380.8 354.0,380.0 302.0,378.2 288.0,374.1 260.5,373.8" fill="#00ffff" stroke="#111" stroke-width="0.45" />
<polygon points="260.5,271.0 280.0,271.4 293.5,272.2 280.0,273.1 260.5,273.6" fill="#0000ff" stroke="#111" stroke-width="0.35" />
<polygon points="260.5,276.6 295.0,277.6 320.0,279.4 295.0,281.0 260.5,281.8" fill="#ffff00" stroke="#111" stroke-width="0.4" />
<polygon points="260.5,278.1 275.0,278.6 288.4,279.4 275.0,280.2 260.5,280.7" fill="#ff0000" stroke="#111" stroke-width="0.3" />
<polygon points="260.5,284.1 300.0,285.3 322.2,287.1 300.0,288.7 260.5,289.7" fill="#0000ff" stroke="#111" stroke-width="0.4" />
<polygon points="260.5,285.4 285.0,286.1 300.8,287.1 285.0,288.0 260.5,288.6" fill="#ff00ff" stroke="#111" stroke-width="0.3" />
<polygon points="260.5,286.3 268.0,286.6 275.0,287.1 268.0,287.5 260.5,287.8" fill="#d000c0" stroke="#111" stroke-width="0" />
<polygon points="260.5,292.4 290.0,293.0 313.2,294.4 290.0,296.2 260.5,297.2" fill="#ffff00" stroke="#111" stroke-width="0.4" />
<polygon points="260.5,293.1 275.0,293.6 290.1,294.5 275.0,295.4 260.5,295.9" fill="#ff0000" stroke="#111" stroke-width="0.3" />
<polygon points="260.5,300.6 272.0,300.9 281.1,301.8 272.0,303.0 260.5,304.0" fill="#0000ff" stroke="#111" stroke-width="0.35" />
</g>
<rect x="260.5" y="243.2" width="182.5" height="139.0" fill="none" stroke="#3a3a3a" stroke-width="0.6"/>
<line x1="260.5" y1="382.2" x2="260.5" y2="380.4" stroke="#404040" stroke-width="0.6"/>
<line x1="260.5" y1="243.2" x2="260.5" y2="245.0" stroke="#404040" stroke-width="0.6"/>
<line x1="260.5" y1="382.2" x2="262.3" y2="382.2" stroke="#404040" stroke-width="0.6"/>
<line x1="443.0" y1="382.2" x2="441.2" y2="382.2" stroke="#404040" stroke-width="0.6"/>
<text x="260.5" y="390.9" font-size="6.6" text-anchor="middle" fill="#333" font-weight="normal" >-4</text>
<text x="258.1" y="384.6" font-size="6.6" text-anchor="end" fill="#333" font-weight="normal" >-4</text>
<line x1="283.3" y1="382.2" x2="283.3" y2="380.4" stroke="#404040" stroke-width="0.6"/>
<line x1="283.3" y1="243.2" x2="283.3" y2="245.0" stroke="#404040" stroke-width="0.6"/>
<line x1="260.5" y1="364.8" x2="262.3" y2="364.8" stroke="#404040" stroke-width="0.6"/>
<line x1="443.0" y1="364.8" x2="441.2" y2="364.8" stroke="#404040" stroke-width="0.6"/>
<text x="283.3" y="390.9" font-size="6.6" text-anchor="middle" fill="#333" font-weight="normal" >-3</text>
<text x="258.1" y="367.2" font-size="6.6" text-anchor="end" fill="#333" font-weight="normal" >-3</text>
<line x1="306.1" y1="382.2" x2="306.1" y2="380.4" stroke="#404040" stroke-width="0.6"/>
<line x1="306.1" y1="243.2" x2="306.1" y2="245.0" stroke="#404040" stroke-width="0.6"/>
<line x1="260.5" y1="347.4" x2="262.3" y2="347.4" stroke="#404040" stroke-width="0.6"/>
<line x1="443.0" y1="347.4" x2="441.2" y2="347.4" stroke="#404040" stroke-width="0.6"/>
<text x="306.1" y="390.9" font-size="6.6" text-anchor="middle" fill="#333" font-weight="normal" >-2</text>
<text x="258.1" y="349.8" font-size="6.6" text-anchor="end" fill="#333" font-weight="normal" >-2</text>
<line x1="328.9" y1="382.2" x2="328.9" y2="380.4" stroke="#404040" stroke-width="0.6"/>
<line x1="328.9" y1="243.2" x2="328.9" y2="245.0" stroke="#404040" stroke-width="0.6"/>
<line x1="260.5" y1="330.1" x2="262.3" y2="330.1" stroke="#404040" stroke-width="0.6"/>
<line x1="443.0" y1="330.1" x2="441.2" y2="330.1" stroke="#404040" stroke-width="0.6"/>
<text x="328.9" y="390.9" font-size="6.6" text-anchor="middle" fill="#333" font-weight="normal" >-1</text>
<text x="258.1" y="332.5" font-size="6.6" text-anchor="end" fill="#333" font-weight="normal" >-1</text>
<line x1="351.8" y1="382.2" x2="351.8" y2="380.4" stroke="#404040" stroke-width="0.6"/>
<line x1="351.8" y1="243.2" x2="351.8" y2="245.0" stroke="#404040" stroke-width="0.6"/>
<line x1="260.5" y1="312.7" x2="262.3" y2="312.7" stroke="#404040" stroke-width="0.6"/>
<line x1="443.0" y1="312.7" x2="441.2" y2="312.7" stroke="#404040" stroke-width="0.6"/>
<text x="351.8" y="390.9" font-size="6.6" text-anchor="middle" fill="#333" font-weight="normal" >0</text>
<text x="258.1" y="315.1" font-size="6.6" text-anchor="end" fill="#333" font-weight="normal" >0</text>
<line x1="374.6" y1="382.2" x2="374.6" y2="380.4" stroke="#404040" stroke-width="0.6"/>
<line x1="374.6" y1="243.2" x2="374.6" y2="245.0" stroke="#404040" stroke-width="0.6"/>
<line x1="260.5" y1="295.3" x2="262.3" y2="295.3" stroke="#404040" stroke-width="0.6"/>
<line x1="443.0" y1="295.3" x2="441.2" y2="295.3" stroke="#404040" stroke-width="0.6"/>
<text x="374.6" y="390.9" font-size="6.6" text-anchor="middle" fill="#333" font-weight="normal" >1</text>
<text x="258.1" y="297.7" font-size="6.6" text-anchor="end" fill="#333" font-weight="normal" >1</text>
<line x1="397.4" y1="382.2" x2="397.4" y2="380.4" stroke="#404040" stroke-width="0.6"/>
<line x1="397.4" y1="243.2" x2="397.4" y2="245.0" stroke="#404040" stroke-width="0.6"/>
<line x1="260.5" y1="277.9" x2="262.3" y2="277.9" stroke="#404040" stroke-width="0.6"/>
<line x1="443.0" y1="277.9" x2="441.2" y2="277.9" stroke="#404040" stroke-width="0.6"/>
<text x="397.4" y="390.9" font-size="6.6" text-anchor="middle" fill="#333" font-weight="normal" >2</text>
<text x="258.1" y="280.3" font-size="6.6" text-anchor="end" fill="#333" font-weight="normal" >2</text>
<line x1="420.2" y1="382.2" x2="420.2" y2="380.4" stroke="#404040" stroke-width="0.6"/>
<line x1="420.2" y1="243.2" x2="420.2" y2="245.0" stroke="#404040" stroke-width="0.6"/>
<line x1="260.5" y1="260.6" x2="262.3" y2="260.6" stroke="#404040" stroke-width="0.6"/>
<line x1="443.0" y1="260.6" x2="441.2" y2="260.6" stroke="#404040" stroke-width="0.6"/>
<text x="420.2" y="390.9" font-size="6.6" text-anchor="middle" fill="#333" font-weight="normal" >3</text>
<text x="258.1" y="263.0" font-size="6.6" text-anchor="end" fill="#333" font-weight="normal" >3</text>
<line x1="443.0" y1="382.2" x2="443.0" y2="380.4" stroke="#404040" stroke-width="0.6"/>
<line x1="443.0" y1="243.2" x2="443.0" y2="245.0" stroke="#404040" stroke-width="0.6"/>
<line x1="260.5" y1="243.2" x2="262.3" y2="243.2" stroke="#404040" stroke-width="0.6"/>
<line x1="443.0" y1="243.2" x2="441.2" y2="243.2" stroke="#404040" stroke-width="0.6"/>
<text x="443.0" y="390.9" font-size="6.6" text-anchor="middle" fill="#333" font-weight="normal" >4</text>
<text x="258.1" y="245.6" font-size="6.6" text-anchor="end" fill="#333" font-weight="normal" >4</text>
<text x="351.8" y="405.0" font-size="12" text-anchor="middle" fill="#222" font-weight="normal" >x</text>
<text transform="translate(249.4,312.6) rotate(-90)" font-size="11.5" text-anchor="middle" fill="#222">t</text>
<text x="603.7" y="228.6" font-size="11.5" font-weight="bold" text-anchor="middle" fill="#111">(c<tspan dy="4.6" font-size="8">2</tspan><tspan dy="-4.6">)</tspan></text>
<rect x="500.5" y="242.3" width="182.5" height="138.89999999999998" fill="#0096ff"/>
<g stroke-linejoin="round">
<polygon points="500.5,249.6 634.3,249.7 643.6,256.1 644.5,257.1 644.5,257.1 642.3,257.2 638.5,257.2 632.0,257.3 500.5,257.3" fill="#00ff80" stroke="#111" stroke-width="0.45" />
<polygon points="500.5,265.1 632.0,265.1 638.5,264.8 642.3,264.5 644.5,264.1 644.5,270.0 642.3,271.0 638.5,272.0 632.0,272.8 500.5,272.8" fill="#00ff80" stroke="#111" stroke-width="0.45" />
<polygon points="500.5,280.4 632.0,280.4 638.5,279.9 642.3,279.2 644.5,278.6 644.5,285.3 642.3,286.4 638.5,287.4 632.0,288.3 500.5,288.3" fill="#00ff80" stroke="#111" stroke-width="0.45" />
<polygon points="500.5,296.0 632.0,296.0 638.5,294.7 642.3,293.2 644.5,291.7 644.5,299.2 642.3,300.8 638.5,302.3 632.0,303.7 500.5,303.7" fill="#00ff80" stroke="#111" stroke-width="0.45" />
<polygon points="500.5,311.5 634.6,311.5 639.5,313.3 643.0,315.8 644.5,319.0 644.5,326.7 643.0,323.5 639.5,321.0 634.6,319.2 500.5,319.2" fill="#00ff80" stroke="#111" stroke-width="0.45" />
<polygon points="500.5,327.1 634.6,327.1 639.5,328.9 643.0,331.4 644.5,334.6 644.5,342.2 643.0,339.0 639.5,336.5 634.6,334.7 500.5,334.7" fill="#00ff80" stroke="#111" stroke-width="0.45" />
<polygon points="500.5,342.6 634.6,342.6 639.5,344.4 643.0,346.9 644.5,350.1 644.5,357.7 643.0,354.5 639.5,352.0 634.6,350.2 500.5,350.2" fill="#00ff80" stroke="#111" stroke-width="0.45" />
<polygon points="500.5,358.0 634.6,358.0 639.5,359.8 643.0,362.3 644.5,365.5 644.5,373.6 643.0,370.4 639.5,367.9 634.6,366.1 500.5,366.1" fill="#00ff80" stroke="#111" stroke-width="0.45" />
<polygon points="500.5,373.5 634.6,373.5 639.5,375.3 643.0,377.8 644.5,381.0 644.5,381.2 500.5,381.2" fill="#00ff80" stroke="#111" stroke-width="0.45" />
<polygon points="637.3,242.3 683.0,242.3 683.0,249.8 644.8,249.6 644.5,244.8 643.0,244.2" fill="#00ff80" stroke="#111" stroke-width="0.45" />
<polygon points="644.5,257.3 683.0,257.3 683.0,265.1 644.5,265.1" fill="#00ff80" stroke="#111" stroke-width="0.45" />
<polygon points="644.5,272.8 683.0,272.8 683.0,280.4 644.5,280.4" fill="#00ff80" stroke="#111" stroke-width="0.45" />
<polygon points="644.5,288.3 683.0,288.3 683.0,296.0 644.5,296.0" fill="#00ff80" stroke="#111" stroke-width="0.45" />
<polygon points="644.5,303.7 683.0,303.7 683.0,311.5 644.5,311.5" fill="#00ff80" stroke="#111" stroke-width="0.45" />
<polygon points="644.5,319.2 683.0,319.2 683.0,327.1 644.5,327.1" fill="#00ff80" stroke="#111" stroke-width="0.45" />
<polygon points="644.5,334.7 683.0,334.7 683.0,342.6 644.5,342.6" fill="#00ff80" stroke="#111" stroke-width="0.45" />
<polygon points="644.5,350.2 683.0,350.2 683.0,358.0 644.5,358.0" fill="#00ff80" stroke="#111" stroke-width="0.45" />
<polygon points="644.5,366.1 683.0,366.1 683.0,373.5 644.5,373.5" fill="#00ff80" stroke="#111" stroke-width="0.45" />
<line x1="644.5" y1="244.8" x2="644.5" y2="381.2" stroke="#111" stroke-width="0.5"/>
<polygon points="500.5,291.2 518.0,292.2 528.4,293.2 518.0,294.0 500.5,294.9" fill="#5000ff" stroke="#111" stroke-width="0.35" />
<polygon points="500.5,298.0 530.0,299.2 550.4,300.4 530.0,301.6 500.5,302.8" fill="#70ff00" stroke="#111" stroke-width="0.35" />
<polygon points="500.5,299.2 510.0,299.8 519.4,300.4 510.0,301.0 500.5,301.7" fill="#ffd000" stroke="#111" stroke-width="0.25" />
<polygon points="500.5,305.1 535.0,306.5 560.5,307.9 535.0,309.3 500.5,310.7" fill="#5000ff" stroke="#111" stroke-width="0.35" />
<polygon points="500.5,306.2 518.0,307.1 529.5,307.9 518.0,308.7 500.5,309.6" fill="#ff00c8" stroke="#111" stroke-width="0.25" />
<polygon points="500.5,307.0 506.0,307.5 510.4,307.9 506.0,308.4 500.5,308.9" fill="#ff0000" stroke="#111" stroke-width="0" />
<polygon points="500.5,313.0 535.0,314.2 561.1,315.4 535.0,316.5 500.5,317.7" fill="#70ff00" stroke="#111" stroke-width="0.35" />
<polygon points="500.5,314.1 518.0,314.8 530.7,315.4 518.0,316.0 500.5,316.6" fill="#ffd000" stroke="#111" stroke-width="0.25" />
<polygon points="500.5,314.6 506.0,315.0 511.5,315.4 506.0,315.8 500.5,316.2" fill="#ff0000" stroke="#111" stroke-width="0" />
<polygon points="500.5,320.2 530.0,321.2 550.4,322.2 530.0,323.6 500.5,325.3" fill="#5000ff" stroke="#111" stroke-width="0.35" />
<polygon points="500.5,321.1 510.0,321.8 519.4,322.4 510.0,323.2 500.5,324.2" fill="#ff00c8" stroke="#111" stroke-width="0.25" />
<polygon points="500.5,328.8 515.0,329.4 528.4,330.1 515.0,330.8 500.5,331.6" fill="#70ff00" stroke="#111" stroke-width="0.35" />
</g>
<rect x="500.5" y="242.3" width="182.5" height="138.89999999999998" fill="none" stroke="#3a3a3a" stroke-width="0.6"/>
<line x1="500.5" y1="381.2" x2="500.5" y2="379.4" stroke="#404040" stroke-width="0.6"/>
<line x1="500.5" y1="242.3" x2="500.5" y2="244.1" stroke="#404040" stroke-width="0.6"/>
<line x1="500.5" y1="381.2" x2="502.3" y2="381.2" stroke="#404040" stroke-width="0.6"/>
<line x1="683.0" y1="381.2" x2="681.2" y2="381.2" stroke="#404040" stroke-width="0.6"/>
<text x="500.5" y="389.9" font-size="6.6" text-anchor="middle" fill="#333" font-weight="normal" >-4</text>
<text x="498.1" y="383.6" font-size="6.6" text-anchor="end" fill="#333" font-weight="normal" >-4</text>
<line x1="523.3" y1="381.2" x2="523.3" y2="379.4" stroke="#404040" stroke-width="0.6"/>
<line x1="523.3" y1="242.3" x2="523.3" y2="244.1" stroke="#404040" stroke-width="0.6"/>
<line x1="500.5" y1="363.8" x2="502.3" y2="363.8" stroke="#404040" stroke-width="0.6"/>
<line x1="683.0" y1="363.8" x2="681.2" y2="363.8" stroke="#404040" stroke-width="0.6"/>
<text x="523.3" y="389.9" font-size="6.6" text-anchor="middle" fill="#333" font-weight="normal" >-3</text>
<text x="498.1" y="366.2" font-size="6.6" text-anchor="end" fill="#333" font-weight="normal" >-3</text>
<line x1="546.1" y1="381.2" x2="546.1" y2="379.4" stroke="#404040" stroke-width="0.6"/>
<line x1="546.1" y1="242.3" x2="546.1" y2="244.1" stroke="#404040" stroke-width="0.6"/>
<line x1="500.5" y1="346.5" x2="502.3" y2="346.5" stroke="#404040" stroke-width="0.6"/>
<line x1="683.0" y1="346.5" x2="681.2" y2="346.5" stroke="#404040" stroke-width="0.6"/>
<text x="546.1" y="389.9" font-size="6.6" text-anchor="middle" fill="#333" font-weight="normal" >-2</text>
<text x="498.1" y="348.9" font-size="6.6" text-anchor="end" fill="#333" font-weight="normal" >-2</text>
<line x1="568.9" y1="381.2" x2="568.9" y2="379.4" stroke="#404040" stroke-width="0.6"/>
<line x1="568.9" y1="242.3" x2="568.9" y2="244.1" stroke="#404040" stroke-width="0.6"/>
<line x1="500.5" y1="329.1" x2="502.3" y2="329.1" stroke="#404040" stroke-width="0.6"/>
<line x1="683.0" y1="329.1" x2="681.2" y2="329.1" stroke="#404040" stroke-width="0.6"/>
<text x="568.9" y="389.9" font-size="6.6" text-anchor="middle" fill="#333" font-weight="normal" >-1</text>
<text x="498.1" y="331.5" font-size="6.6" text-anchor="end" fill="#333" font-weight="normal" >-1</text>
<line x1="591.8" y1="381.2" x2="591.8" y2="379.4" stroke="#404040" stroke-width="0.6"/>
<line x1="591.8" y1="242.3" x2="591.8" y2="244.1" stroke="#404040" stroke-width="0.6"/>
<line x1="500.5" y1="311.8" x2="502.3" y2="311.8" stroke="#404040" stroke-width="0.6"/>
<line x1="683.0" y1="311.8" x2="681.2" y2="311.8" stroke="#404040" stroke-width="0.6"/>
<text x="591.8" y="389.9" font-size="6.6" text-anchor="middle" fill="#333" font-weight="normal" >0</text>
<text x="498.1" y="314.1" font-size="6.6" text-anchor="end" fill="#333" font-weight="normal" >0</text>
<line x1="614.6" y1="381.2" x2="614.6" y2="379.4" stroke="#404040" stroke-width="0.6"/>
<line x1="614.6" y1="242.3" x2="614.6" y2="244.1" stroke="#404040" stroke-width="0.6"/>
<line x1="500.5" y1="294.4" x2="502.3" y2="294.4" stroke="#404040" stroke-width="0.6"/>
<line x1="683.0" y1="294.4" x2="681.2" y2="294.4" stroke="#404040" stroke-width="0.6"/>
<text x="614.6" y="389.9" font-size="6.6" text-anchor="middle" fill="#333" font-weight="normal" >1</text>
<text x="498.1" y="296.8" font-size="6.6" text-anchor="end" fill="#333" font-weight="normal" >1</text>
<line x1="637.4" y1="381.2" x2="637.4" y2="379.4" stroke="#404040" stroke-width="0.6"/>
<line x1="637.4" y1="242.3" x2="637.4" y2="244.1" stroke="#404040" stroke-width="0.6"/>
<line x1="500.5" y1="277.0" x2="502.3" y2="277.0" stroke="#404040" stroke-width="0.6"/>
<line x1="683.0" y1="277.0" x2="681.2" y2="277.0" stroke="#404040" stroke-width="0.6"/>
<text x="637.4" y="389.9" font-size="6.6" text-anchor="middle" fill="#333" font-weight="normal" >2</text>
<text x="498.1" y="279.4" font-size="6.6" text-anchor="end" fill="#333" font-weight="normal" >2</text>
<line x1="660.2" y1="381.2" x2="660.2" y2="379.4" stroke="#404040" stroke-width="0.6"/>
<line x1="660.2" y1="242.3" x2="660.2" y2="244.1" stroke="#404040" stroke-width="0.6"/>
<line x1="500.5" y1="259.7" x2="502.3" y2="259.7" stroke="#404040" stroke-width="0.6"/>
<line x1="683.0" y1="259.7" x2="681.2" y2="259.7" stroke="#404040" stroke-width="0.6"/>
<text x="660.2" y="389.9" font-size="6.6" text-anchor="middle" fill="#333" font-weight="normal" >3</text>
<text x="498.1" y="262.1" font-size="6.6" text-anchor="end" fill="#333" font-weight="normal" >3</text>
<line x1="683.0" y1="381.2" x2="683.0" y2="379.4" stroke="#404040" stroke-width="0.6"/>
<line x1="683.0" y1="242.3" x2="683.0" y2="244.1" stroke="#404040" stroke-width="0.6"/>
<line x1="500.5" y1="242.3" x2="502.3" y2="242.3" stroke="#404040" stroke-width="0.6"/>
<line x1="683.0" y1="242.3" x2="681.2" y2="242.3" stroke="#404040" stroke-width="0.6"/>
<text x="683.0" y="389.9" font-size="6.6" text-anchor="middle" fill="#333" font-weight="normal" >4</text>
<text x="498.1" y="244.7" font-size="6.6" text-anchor="end" fill="#333" font-weight="normal" >4</text>
<text x="591.8" y="404.0" font-size="12" text-anchor="middle" fill="#222" font-weight="normal" >x</text>
<text transform="translate(489.4,311.7) rotate(-90)" font-size="11.5" text-anchor="middle" fill="#222">t</text>
<circle cx="301.4" cy="237.4" r="0.55" fill="#777"/>
<circle cx="541.2" cy="236.8" r="0.55" fill="#666"/>
<circle cx="470.4" cy="406.2" r="0.5" fill="#aaa"/>
</svg></body></html>
